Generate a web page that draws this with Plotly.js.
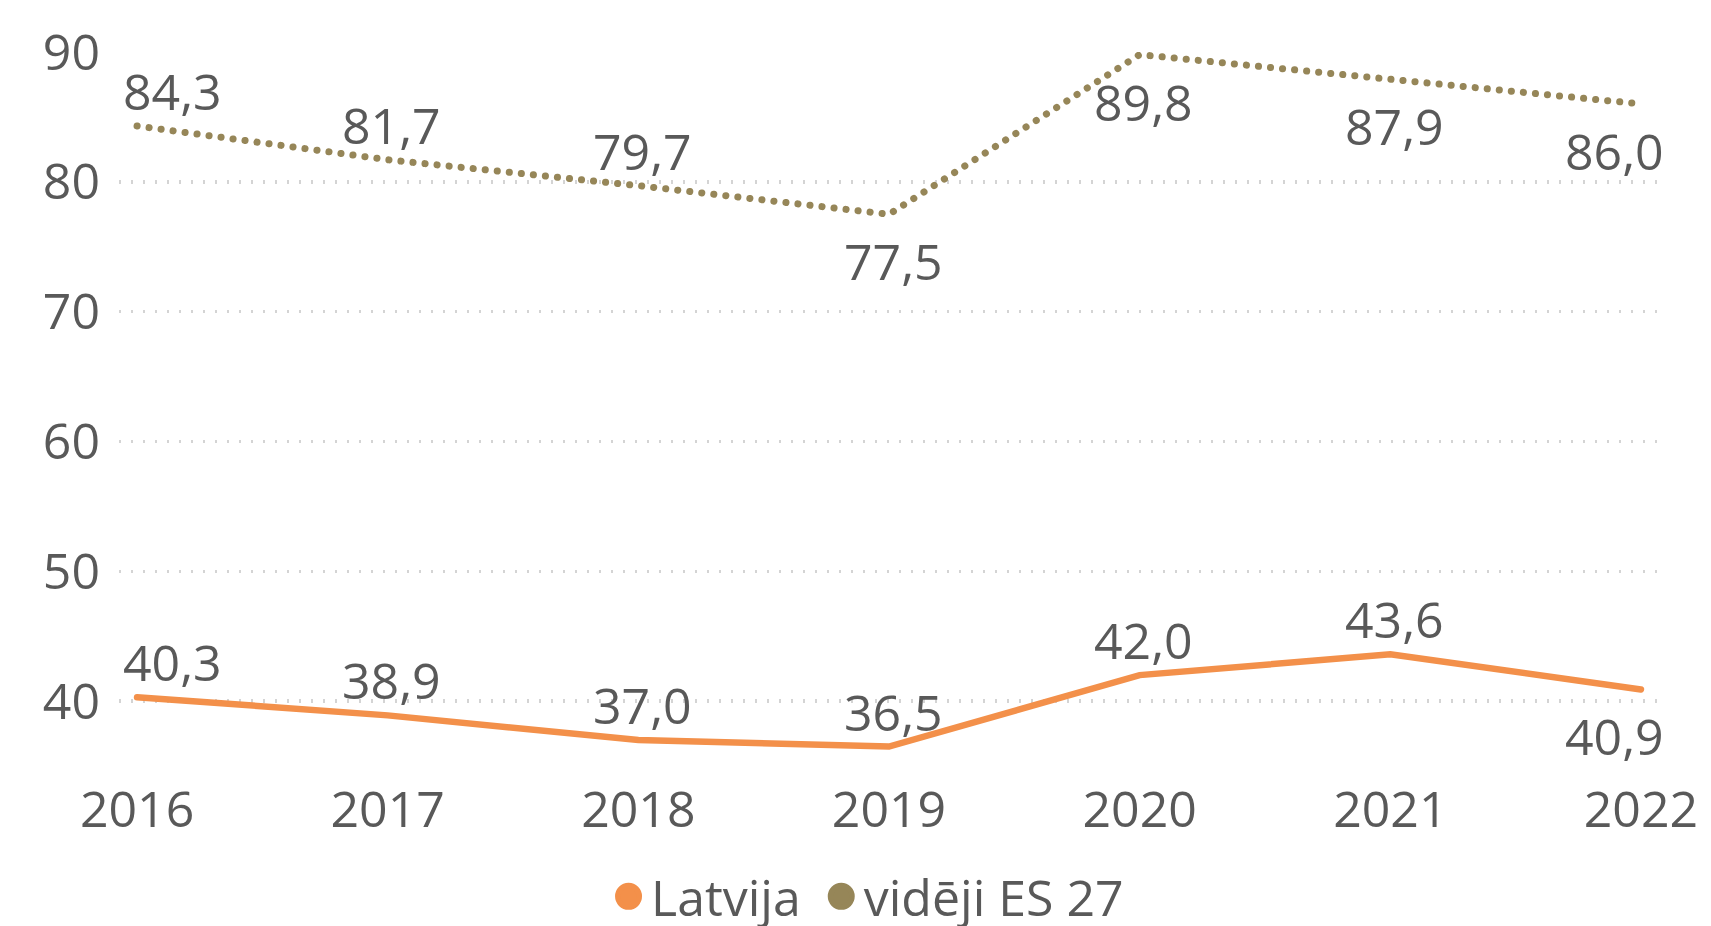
<!DOCTYPE html>
<html>
<head>
<meta charset="utf-8">
<script src="https://cdn.plot.ly/plotly-3.0.1.min.js"></script>
<style>
  html, body { margin: 0; padding: 0; background: #fff; }
  #chart { width: 1711px; height: 926px; }
  .scatterlayer .js-line { stroke-linecap: round; }
</style>
</head>
<body>
<div id="chart"></div>
<script>
// ---- data ----
const years = ['2016', '2017', '2018', '2019', '2020', '2021', '2022'];
const latvija = [40.3, 38.9, 37.0, 36.5, 42.0, 43.6, 40.9];
const esAvg = [84.3, 81.7, 79.7, 77.5, 89.8, 87.9, 86.0];
const seriesNames = ['Latvija', 'vidēji ES 27'];
const yTicks = [40, 50, 60, 70, 80, 90];

// ---- label placement (style, not data) ----
const latvijaPos = ['above', 'above', 'above', 'above', 'above', 'above', 'below'];
const esPos = ['above', 'above', 'above', 'below', 'below', 'below', 'below'];
const edgeShift = [35, 4, 4, 4, 4, 4, -26];

const FONT = '"Open Sans", "Noto Sans", sans-serif';
const TXT = '#595959';
const C_LV = '#F3904A';
const C_ES = '#968658';
const FS = 50;

function fmt(v) { return v.toFixed(1).replace('.', ','); }

const annotations = [];
function addLabels(vals, pos) {
  vals.forEach((v, i) => {
    annotations.push({
      x: i, y: v, xref: 'x', yref: 'y',
      text: fmt(v), showarrow: false,
      xanchor: 'center', yanchor: 'middle',
      xshift: edgeShift[i],
      yshift: pos[i] === 'above' ? 35 : -47,
      font: { family: FONT, size: FS, color: TXT }
    });
  });
}
addLabels(esAvg, esPos);
addLabels(latvija, latvijaPos);

const traces = [
  { x: years, y: latvija, type: 'scatter', mode: 'lines', name: seriesNames[0],
    line: { color: C_LV, width: 6.5 }, showlegend: false, hoverinfo: 'skip' },
  { x: years, y: esAvg, type: 'scatter', mode: 'lines', name: seriesNames[1],
    line: { color: C_ES, width: 7, dash: '0.1px,12px' }, showlegend: false, hoverinfo: 'skip' },
  { x: [null], y: [null], type: 'scatter', mode: 'markers', name: seriesNames[0] + '\u00a0',
    marker: { color: C_LV, size: 16, symbol: 'circle', line: { color: C_LV, width: 4 } }, showlegend: true },
  { x: [null], y: [null], type: 'scatter', mode: 'markers', name: seriesNames[1],
    marker: { color: C_ES, size: 16, symbol: 'circle', line: { color: C_ES, width: 4 } }, showlegend: true }
];

const layout = {
  width: 1711, height: 926,
  margin: { l: 119, r: 52, t: 52, b: 160 },
  paper_bgcolor: '#fff', plot_bgcolor: '#fff',
  font: { family: FONT, size: FS, color: TXT },
  xaxis: {
    type: 'category', range: [-0.072, 6.072],
    showgrid: false, zeroline: false, showline: false, ticks: '',
    tickfont: { family: FONT, size: FS, color: TXT },
    ticklabelstandoff: 10, fixedrange: true
  },
  yaxis: {
    range: [35, 90], tickvals: yTicks, ticktext: yTicks.map(String),
    showgrid: true, gridcolor: '#d4d4d4', gridwidth: 3.5, griddash: '2px,10px',
    zeroline: false, showline: false, ticks: '',
    tickfont: { family: FONT, size: FS, color: TXT },
    ticklabelstandoff: 18, fixedrange: true
  },
  legend: {
    orientation: 'h', xref: 'container', yref: 'container',
    x: 0.3542, xanchor: 'left', y: 0.032, yanchor: 'middle',
    font: { family: FONT, size: FS, color: TXT },
    itemwidth: 35,
    bgcolor: 'rgba(0,0,0,0)'
  },
  annotations: annotations,
  showlegend: true
};

Plotly.newPlot('chart', traces, layout, { displayModeBar: false, staticPlot: true }).then(gd => {
  // enlarge legend circles to match the reference's bigger bullets
  gd.querySelectorAll('.legend .legendpoints path.scatterpts').forEach(p => {
    const t = p.getAttribute('transform') || '';
    p.setAttribute('transform', t + ' scale(1.35)');
  });
});
</script>
</body>
</html>
